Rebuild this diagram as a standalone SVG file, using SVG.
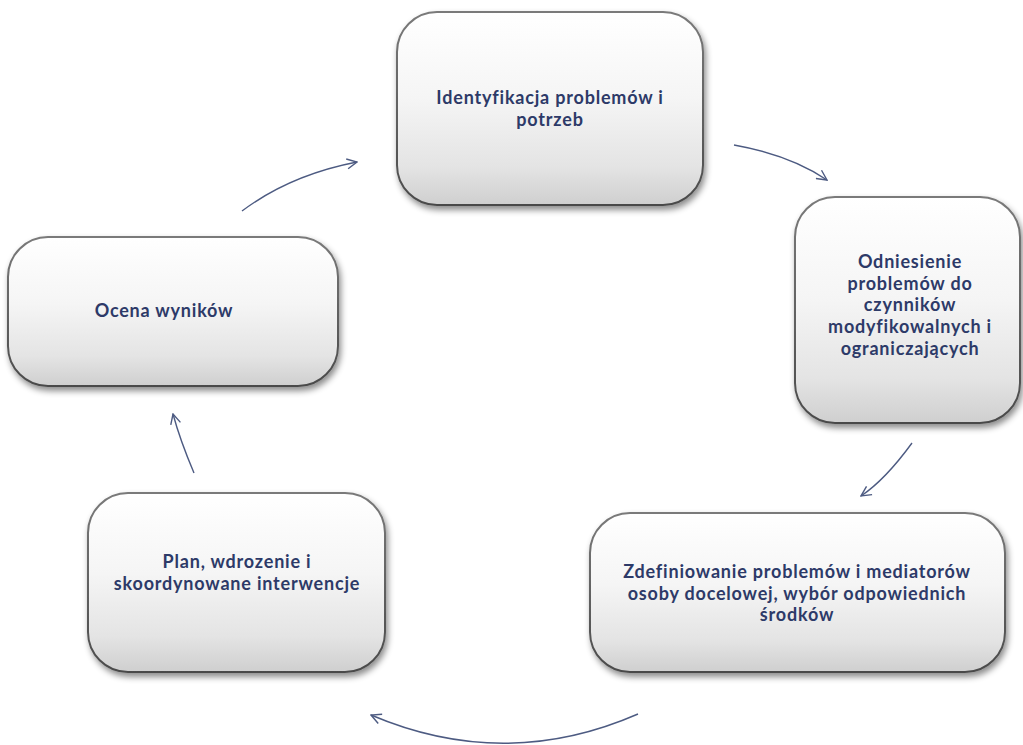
<svg xmlns="http://www.w3.org/2000/svg" width="1023" height="745" viewBox="0 0 1023 745">
  <style>
    .box { fill: url(#boxFill); stroke: url(#boxEdge); stroke-width: 2; filter: url(#shadow); }
    .lbl { font-family: Lato, "Open Sans", "Liberation Sans", sans-serif; font-weight: 700; font-size: 18px; letter-spacing: 0.8px; fill: #2d3a68; text-anchor: middle; }
    .conn { fill: none; stroke: #4d5b82; stroke-width: 1.4; marker-end: url(#chev); }
  </style>
  <defs>
    <linearGradient id="boxFill" x1="0" y1="0" x2="0" y2="1">
      <stop offset="0" stop-color="#ffffff"/>
      <stop offset="0.45" stop-color="#f5f5f5"/>
      <stop offset="0.8" stop-color="#e4e4e4"/>
      <stop offset="1" stop-color="#cfcfcf"/>
    </linearGradient>
    <linearGradient id="boxEdge" x1="0" y1="0" x2="0" y2="1">
      <stop offset="0" stop-color="#7a7a7a"/>
      <stop offset="1" stop-color="#4a4a4a"/>
    </linearGradient>
    <filter id="shadow" x="-10%" y="-10%" width="125%" height="130%">
      <feDropShadow dx="2" dy="4" stdDeviation="3" flood-color="#000" flood-opacity="0.45"/>
    </filter>
    <marker id="chev" viewBox="0 0 12 12" refX="11" refY="6" markerWidth="12" markerHeight="12" markerUnits="userSpaceOnUse" orient="auto">
      <path d="M1,1 L11,6 L1,11" fill="none" stroke="#4d5b82" stroke-width="1.4"/>
    </marker>
  </defs>

  <!-- cycle arrows between the stages -->
  <g id="connectors">
    <path class="conn" d="M242,211 Q290,175 357,162"/>
    <path class="conn" d="M734,145 Q790,155 827,180"/>
    <path class="conn" d="M912,443 Q885,480 861,496"/>
    <path class="conn" d="M638,714 Q505,772 371,715"/>
    <path class="conn" d="M194,473 Q180,440 173,414"/>
  </g>

  <g id="node-identyfikacja">
    <rect class="box" x="397" y="12" width="306" height="193" rx="40"/>
    <text class="lbl" x="550" y="104">Identyfikacja problemów i</text>
    <text class="lbl" x="550" y="126">potrzeb</text>
  </g>

  <g id="node-odniesienie">
    <rect class="box" x="795" y="197" width="225" height="226" rx="40"/>
    <text class="lbl" x="910" y="268">Odniesienie</text>
    <text class="lbl" x="910" y="290">problemów do</text>
    <text class="lbl" x="910" y="311">czynników</text>
    <text class="lbl" x="910" y="333">modyfikowalnych i</text>
    <text class="lbl" x="910" y="355">ograniczających</text>
  </g>

  <g id="node-zdefiniowanie">
    <rect class="box" x="590" y="513" width="415" height="159" rx="40"/>
    <text class="lbl" x="797" y="578">Zdefiniowanie problemów i mediatorów</text>
    <text class="lbl" x="797" y="600">osoby docelowej, wybór odpowiednich</text>
    <text class="lbl" x="797" y="621">środków</text>
  </g>

  <g id="node-plan">
    <rect class="box" x="88" y="493" width="297" height="179" rx="40"/>
    <text class="lbl" x="237" y="568">Plan, wdrozenie i</text>
    <text class="lbl" x="237" y="590">skoordynowane interwencje</text>
  </g>

  <g id="node-ocena">
    <rect class="box" x="8" y="237" width="330" height="149" rx="40"/>
    <text class="lbl" x="164" y="317">Ocena wyników</text>
  </g>
</svg>
